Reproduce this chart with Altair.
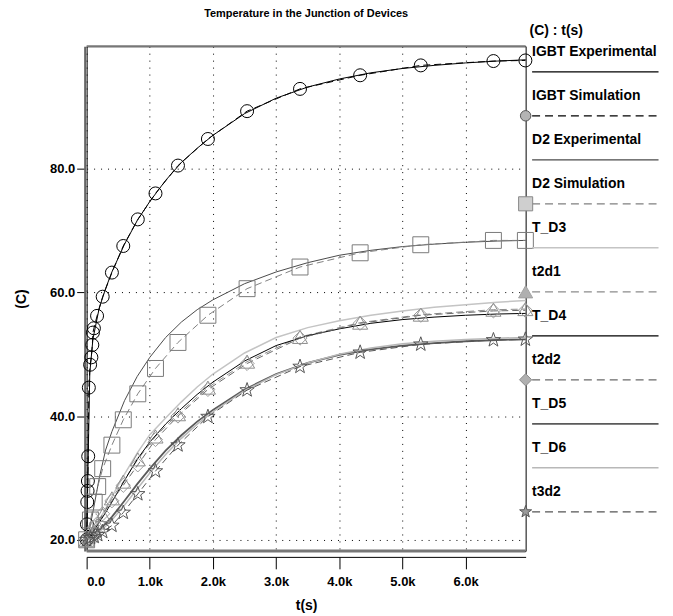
import altair as alt
import pandas as pd

FONT = "Liberation Sans"
W, H = 441, 507

# ---------------- data ----------------
# continuous (experimental) curves, time in seconds
t_line = [0, 50, 100, 200, 300, 400, 600, 800, 1000, 1250, 1500, 1750, 2000,
          2500, 3000, 3500, 4000, 4500, 5000, 5500, 6000, 6500, 6950]
igbt_exp = [20.0, 47.0, 52.5, 57.5, 60.6, 63.3, 67.8, 71.6, 74.7, 78.1, 81.0, 83.3, 85.4,
            88.9, 91.4, 93.2, 94.5, 95.5, 96.2, 96.7, 97.1, 97.4, 97.6]
d2_exp = [20.0, 22.0, 24.5, 30.0, 34.5, 37.5, 42.5, 46.4, 49.5, 52.7, 55.2, 57.2, 58.8,
          61.4, 63.3, 64.8, 66.0, 66.8, 67.4, 67.8, 68.1, 68.3, 68.4]
t_d3 = [20.0, 20.8, 21.5, 23.2, 25.0, 27.0, 30.6, 34.0, 37.0, 39.7, 42.3, 44.7, 46.8,
        50.2, 52.7, 54.3, 55.4, 56.3, 57.0, 57.6, 58.0, 58.4, 58.7]
t_d4 = [20.0, 20.6, 21.3, 22.8, 24.4, 26.1, 29.6, 33.0, 35.8, 38.7, 41.2, 43.5, 45.5,
        48.9, 51.4, 53.0, 54.1, 55.0, 55.6, 56.0, 56.3, 56.5, 56.6]
t_d5 = [20.0, 20.4, 20.8, 21.6, 22.6, 23.7, 26.3, 29.0, 31.5, 34.4, 36.9, 39.1, 41.0,
        44.3, 46.8, 48.6, 49.9, 50.8, 51.4, 51.8, 52.1, 52.3, 52.4]
t_d6 = [20.0, 20.3, 20.6, 21.3, 22.2, 23.2, 25.6, 28.2, 30.8, 33.8, 36.4, 38.7, 40.7,
        44.1, 46.7, 48.6, 50.0, 51.0, 51.7, 52.1, 52.4, 52.6, 52.7]

# simulated curves with markers
t_igbt = [0, 5, 10, 15, 20, 25, 35, 55, 75, 90, 100, 115, 165, 254, 400, 580, 810,
          1090, 1446, 1920, 2540, 3378, 4330, 5290, 6440, 6946]
igbt_sim = [20.0, 22.5, 26.1, 27.9, 29.5, 33.5, 44.6, 48.3, 49.5, 51.5, 53.5, 54.2, 56.2,
            59.3, 63.2, 67.5, 71.8, 76.0, 80.5, 84.8, 89.3, 92.9, 95.1, 96.7, 97.4, 97.5]
t_sim = [0, 60, 120, 175, 254, 400, 580, 810, 1090, 1446, 1920, 2540, 3378, 4330,
         5290, 6440, 6946]
d2_sim = [20.0, 23.2, 26.1, 28.6, 31.5, 35.3, 39.4, 43.6, 47.7, 51.9, 56.3, 60.6, 64.1,
          66.4, 67.7, 68.4, 68.4]
t2d1 = [20.0, 20.7, 21.5, 22.3, 24.0, 26.7, 29.4, 33.0, 36.7, 40.3, 44.6, 48.8, 52.8,
        55.1, 56.4, 57.2, 57.3]
t2d2 = [20.0, 21.0, 22.0, 22.7, 24.2, 26.3, 28.8, 32.1, 36.2, 40.0, 44.3, 48.5, 52.6,
        55.0, 56.3, 57.0, 57.1]
t3d2 = [20.0, 20.3, 20.5, 20.8, 21.3, 22.3, 24.4, 27.4, 31.1, 35.3, 39.9, 44.2, 48.0,
        50.3, 51.6, 52.3, 52.4]

legend_names = ["IGBT Experimental", "IGBT Simulation", "D2 Experimental", "D2 Simulation",
                "T_D3", "t2d1", "T_D4", "t2d2", "T_D5", "T_D6", "t3d2"]
x_ticks = [0, 1000, 2000, 3000, 4000, 5000, 6000]
y_ticks = [20, 40, 60, 80]

# ---------------- styles ----------------
STAR = ("M0,-1L0.235,-0.324L0.951,-0.309L0.38,0.124L0.588,0.809L0,0.4"
        "L-0.588,0.809L-0.38,0.124L-0.951,-0.309L-0.235,-0.324Z")
DASH = [7, 4]
styles = {
    "IGBT Experimental": dict(color="#000000", width=1),
    "IGBT Simulation": dict(color="#000000", width=1, dash=DASH, shape="circle",
                            mcolor="#000000", msize=170, lfill="#b4b4b4",
                            lstroke="#555555", lsize=110),
    "D2 Experimental": dict(color="#4a4a4a", width=1),
    "D2 Simulation": dict(color="#808080", width=1, dash=DASH, shape="square",
                          mcolor="#7a7a7a", msize=256, lfill="#cfcfcf",
                          lstroke="#888888", lsize=200),
    "T_D3": dict(color="#c4c4c4", width=1.5),
    "t2d1": dict(color="#8c8c8c", width=1, dash=DASH, shape="triangle-up",
                 mcolor="#8c8c8c", msize=230, lfill="#b0b0b0", lstroke="#a0a0a0", lsize=200),
    "T_D4": dict(color="#000000", width=1),
    "t2d2": dict(color="#6a6a6a", width=1, dash=DASH, shape="diamond",
                 mcolor="#9a9a9a", msize=200, lfill="#b0b0b0", lstroke="#8a8a8a", lsize=150),
    "T_D5": dict(color="#5a5a5a", width=1.8),
    "T_D6": dict(color="#b8b8b8", width=1.5),
    "t3d2": dict(color="#555555", width=1, dash=DASH, shape=STAR,
                 mcolor="#555555", msize=230, lfill="#9a9a9a", lstroke="#555555", lsize=160),
}

series_data = {
    "IGBT Experimental": (t_line, igbt_exp),
    "IGBT Simulation": (t_igbt, igbt_sim),
    "D2 Experimental": (t_line, d2_exp),
    "D2 Simulation": (t_sim, d2_sim),
    "T_D3": (t_line, t_d3),
    "t2d1": (t_sim, t2d1),
    "T_D4": (t_line, t_d4),
    "t2d2": (t_sim, t2d2),
    "T_D5": (t_line, t_d5),
    "T_D6": (t_line, t_d6),
    "t3d2": (t_sim, t3d2),
}

# ---------------- scales / axes ----------------
xs = alt.Scale(domain=[0, 6950], nice=False, zero=False)
ys = alt.Scale(domain=[18.2, 99.8], nice=False, zero=False)

x_axis = alt.Axis(
    values=x_ticks, title="t(s)",
    labelExpr="datum.value == 0 ? '0.0' : format(datum.value / 1000, '.1f') + 'k'",
    offset=6, tickSize=12, tickColor="black", domainColor="black", domainWidth=1,
    labelPadding=7, titlePadding=10,
    grid=True, gridColor="black", gridDash=[1, 6], gridOpacity=1, gridWidth=1,
)
y_axis = alt.Axis(
    values=y_ticks, format=".1f", title="(C)",
    offset=2, tickSize=8, tickColor="black", domainColor="#666666", domainWidth=2,
    labelPadding=2, titleX=-63, titleY=H / 2, titleAngle=270,
    titleAlign="center", titleBaseline="middle",
    grid=True, gridColor="black", gridDash=[1, 6], gridOpacity=1, gridWidth=1,
)
x_enc = alt.X("t:Q", scale=xs, axis=x_axis)
y_enc = alt.Y("T:Q", scale=ys, axis=y_axis)

one = pd.DataFrame({"a": [0]})

main_layers = []
# gray top / bottom frame edges
main_layers.append(alt.Chart(one).mark_rule(color="#777777", strokeWidth=2).encode(
    x=alt.value(0), x2=alt.value(W), y=alt.value(0)))
main_layers.append(alt.Chart(one).mark_rule(color="#777777", strokeWidth=3).encode(
    x=alt.value(0), x2=alt.value(W), y=alt.value(H)))

marker_layers = []
for name in legend_names:
    t, v = series_data[name]
    st = styles[name]
    df = pd.DataFrame({"t": t, "T": v})
    kw = dict(color=st["color"], strokeWidth=st["width"])
    if "dash" in st:
        kw["strokeDash"] = st["dash"]
    main_layers.append(alt.Chart(df).mark_line(**kw).encode(x=x_enc, y=y_enc))
    if "shape" in st:
        marker_layers.append(
            alt.Chart(df).mark_point(shape=st["shape"], size=st["msize"], filled=False,
                                     stroke=st["mcolor"], strokeWidth=1, opacity=1)
            .encode(x=x_enc, y=y_enc))

main = alt.layer(*(main_layers + marker_layers))

# ---------------- legend ----------------
ldf = pd.DataFrame({"name": legend_names, "idx": list(range(len(legend_names)))})
ls = alt.Scale(domain=[0, 10], range=[25.7, 467.7])
ly = alt.Y("idx:Q", scale=ls, axis=None)

leg_layers = [
    alt.Chart(one).mark_text(text="(C) : t(s)", align="left", baseline="middle",
                             font=FONT, fontSize=14, fontWeight="bold", color="black")
    .encode(x=alt.value(445), y=alt.value(-15)),
    alt.Chart(ldf).mark_text(align="left", baseline="middle", dy=-19.5, font=FONT,
                             fontSize=14, fontWeight="bold", color="black")
    .encode(x=alt.value(447.5), y=ly, text="name:N"),
]
for name in legend_names:
    st = styles[name]
    sub = ldf[ldf["name"] == name]
    kw = dict(color=st["color"], strokeWidth=max(st["width"], 1.3))
    if "dash" in st:
        kw["strokeDash"] = [8, 5]
    leg_layers.append(alt.Chart(sub).mark_rule(**kw).encode(
        x=alt.value(447.5), x2=alt.value(574.5), y=ly))
    if "shape" in st:
        leg_layers.append(alt.Chart(sub).mark_point(
            shape=st["shape"], size=st["lsize"], filled=True, fill=st["lfill"],
            stroke=st["lstroke"], strokeWidth=1, opacity=1).encode(x=alt.value(W), y=ly))

legend = alt.layer(*leg_layers)

chart = (
    alt.layer(main, legend)
    .resolve_scale(y="independent")
    .properties(
        width=W, height=H,
        title=alt.TitleParams("Temperature in the Junction of Devices", font=FONT,
                              fontSize=11, fontWeight="bold", anchor="middle",
                              color="black", offset=5),
        autosize=alt.AutoSizeParams(type="none"),
        padding={"left": 79, "top": 37, "right": 140, "bottom": 63},
    )
    .configure_view(stroke="black", strokeWidth=1)
    .configure_axis(labelFont=FONT, labelFontSize=13, labelFontWeight="bold",
                    labelColor="black", titleFont=FONT, titleFontSize=14,
                    titleFontWeight="bold", titleColor="black")
)

chart.save("out.html", embed_options={"renderer": "svg", "actions": False})
